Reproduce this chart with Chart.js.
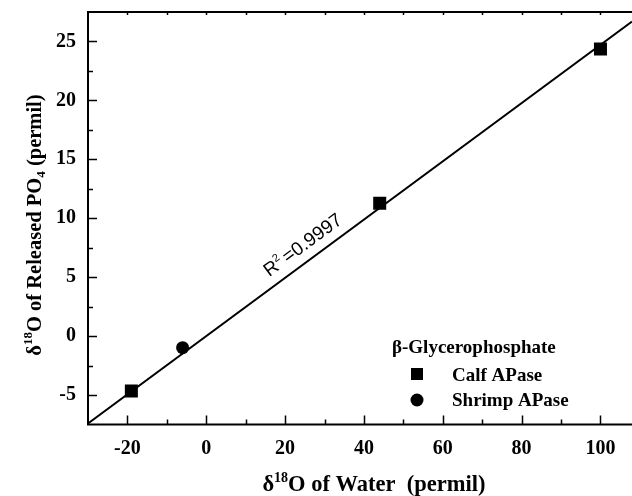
<!DOCTYPE html>
<html>
<head>
<meta charset="utf-8">
<script src="https://cdn.jsdelivr.net/npm/chart.js@4.4.1/dist/chart.umd.min.js"></script>
<style>
  html, body { margin: 0; padding: 0; background: #fff; overflow: hidden; }
  canvas { display: block; }
</style>
</head>
<body>
<canvas id="c" width="632" height="496"></canvas>
<script>
// Calf intestinal alkaline phosphatase runs
const calfX = [-19, 44, 100];
const calfY = [-4.66, 11.27, 24.36];
// Shrimp alkaline phosphatase run
const shrimpX = [-6];
const shrimpY = [-0.98];
// Regression line end points
const fitX = [-30, 108];
const fitY = [-7.42, 26.69];
// Axis ticks
const xTicks = [-20, 0, 20, 40, 60, 80, 100];
const xMinor = [-10, 10, 30, 50, 70, 90];
const yTicks = [-5, 0, 5, 10, 15, 20, 25];
const yMinor = [-2.5, 2.5, 7.5, 12.5, 17.5, 22.5];
const rSquared = 'R';
const rValue = '=0.9997';

const SERIF = '"Liberation Serif", "Times New Roman", serif';
const SANS = '"Liberation Sans", Arial, sans-serif';

function pts(xs, ys) { return xs.map((x, i) => ({ x: x, y: ys[i] })); }

// Text made of pieces (normal / superscript / subscript)
function richWidth(ctx, parts) {
  let w = 0;
  for (const p of parts) { ctx.font = p.font; w += ctx.measureText(p.t).width; }
  return w;
}
function drawRich(ctx, parts, x, y) {
  let cx = x;
  for (const p of parts) {
    ctx.font = p.font;
    ctx.fillText(p.t, cx, y + (p.dy || 0));
    cx += ctx.measureText(p.t).width;
  }
}

const decorations = {
  id: 'decorations',
  afterDraw(chart) {
    const ctx = chart.ctx;
    const a = chart.chartArea;
    const xs = chart.scales.x, ys = chart.scales.y;
    ctx.save();
    ctx.strokeStyle = '#000';
    ctx.fillStyle = '#000';

    // frame (the right side runs past the canvas edge)
    ctx.lineWidth = 2;
    ctx.beginPath();
    ctx.moveTo(a.right + 2, a.top);
    ctx.lineTo(a.left, a.top);
    ctx.lineTo(a.left, a.bottom);
    ctx.lineTo(a.right + 2, a.bottom);
    ctx.stroke();

    // inward tick marks
    ctx.lineWidth = 1.5;
    ctx.beginPath();
    xTicks.forEach(v => {
      const p = Math.round(xs.getPixelForValue(v)) + 0.5;
      ctx.moveTo(p, a.bottom); ctx.lineTo(p, a.bottom - 9);
      ctx.moveTo(p, a.top); ctx.lineTo(p, a.top + 3);
    });
    xMinor.forEach(v => {
      const p = Math.round(xs.getPixelForValue(v)) + 0.5;
      ctx.moveTo(p, a.bottom); ctx.lineTo(p, a.bottom - 5);
      ctx.moveTo(p, a.top); ctx.lineTo(p, a.top + 3);
    });
    yTicks.forEach(v => {
      const p = Math.round(ys.getPixelForValue(v)) + 0.5;
      ctx.moveTo(a.left, p); ctx.lineTo(a.left + 9, p);
    });
    yMinor.forEach(v => {
      const p = Math.round(ys.getPixelForValue(v)) + 0.5;
      ctx.moveTo(a.left, p); ctx.lineTo(a.left + 5, p);
    });
    ctx.stroke();

    // tick labels
    ctx.font = 'bold 20px ' + SERIF;
    ctx.textAlign = 'center';
    ctx.textBaseline = 'top';
    xTicks.forEach(v => ctx.fillText(String(v), xs.getPixelForValue(v), a.bottom + 14));
    ctx.textAlign = 'right';
    ctx.textBaseline = 'middle';
    yTicks.forEach(v => ctx.fillText(String(v), a.left - 12, ys.getPixelForValue(v)));

    // x axis title
    ctx.textBaseline = 'alphabetic';
    ctx.textAlign = 'left';
    const xBig = 'bold 22.5px ' + SERIF, xSup = 'bold 14px ' + SERIF;
    const xt = [
      { t: '\u03B4', font: xBig },
      { t: '18', font: xSup, dy: -9 },
      { t: 'O of Water  (permil)', font: xBig }
    ];
    const xw = richWidth(ctx, xt);
    drawRich(ctx, xt, 374 - xw / 2, 491);

    // y axis title
    const yBig = 'bold 20.5px ' + SERIF, ySup = 'bold 13px ' + SERIF;
    const yt = [
      { t: '\u03B4', font: yBig },
      { t: '18', font: ySup, dy: -9 },
      { t: 'O of Released PO', font: yBig },
      { t: '4', font: ySup, dy: 4 },
      { t: ' (permil)', font: yBig }
    ];
    const yw = richWidth(ctx, yt);
    ctx.save();
    ctx.translate(41, 225);
    ctx.rotate(-Math.PI / 2);
    drawRich(ctx, yt, -yw / 2, 0);
    ctx.restore();

    // R^2 label along the fit line
    const p0x = xs.getPixelForValue(fitX[0]), p0y = ys.getPixelForValue(fitY[0]);
    const p1x = xs.getPixelForValue(fitX[1]), p1y = ys.getPixelForValue(fitY[1]);
    const ang = Math.atan2(p1y - p0y, p1x - p0x);
    const ax = 17.5;
    const ay = fitY[0] + (ax - fitX[0]) * (fitY[1] - fitY[0]) / (fitX[1] - fitX[0]);
    ctx.save();
    ctx.translate(xs.getPixelForValue(ax), ys.getPixelForValue(ay));
    ctx.rotate(ang);
    const rf = '19px ' + SANS, rs = '11px ' + SANS;
    drawRich(ctx, [
      { t: rSquared, font: rf },
      { t: '2', font: rs, dy: -8 },
      { t: ' ', font: rs },
      { t: rValue, font: rf }
    ], 0, -10);
    ctx.restore();

    // legend
    ctx.font = 'bold 19px ' + SERIF;
    ctx.fillText('\u03B2-Glycerophosphate', 392, 353);
    ctx.fillText('Calf APase', 452, 381);
    ctx.fillText('Shrimp APase', 452, 406);
    ctx.fillRect(411, 368, 12, 12);
    ctx.beginPath();
    ctx.arc(417, 400, 6.5, 0, Math.PI * 2);
    ctx.fill();

    ctx.restore();
  }
};

new Chart(document.getElementById('c'), {
  type: 'scatter',
  data: {
    datasets: [
      {
        label: 'Calf APase',
        data: pts(calfX, calfY),
        pointStyle: 'rect',
        pointRadius: 9.2,
        pointHoverRadius: 9.2,
        backgroundColor: '#000',
        borderColor: '#000',
        borderWidth: 0,
        order: 0
      },
      {
        label: 'Shrimp APase',
        data: pts(shrimpX, shrimpY),
        pointStyle: 'circle',
        pointRadius: 6.5,
        pointHoverRadius: 6.5,
        backgroundColor: '#000',
        borderColor: '#000',
        borderWidth: 0,
        order: 0
      },
      {
        label: 'Fit',
        type: 'line',
        data: pts(fitX, fitY),
        borderColor: '#000',
        borderWidth: 2,
        pointRadius: 0,
        fill: false,
        order: 1
      }
    ]
  },
  options: {
    responsive: false,
    devicePixelRatio: 1,
    animation: false,
    events: [],
    layout: { autoPadding: false, padding: { top: 12, left: 0, right: 0, bottom: 0 } },
    plugins: { legend: { display: false }, tooltip: { enabled: false } },
    scales: {
      x: {
        type: 'linear',
        min: -30, max: 108,
        grid: { display: false, drawTicks: false },
        border: { display: false },
        ticks: { display: false },
        afterFit: s => { s.height = 71.5; }
      },
      y: {
        type: 'linear',
        min: -7.5, max: 27.5,
        grid: { display: false, drawTicks: false },
        border: { display: false },
        ticks: { display: false },
        afterFit: s => { s.width = 88; }
      }
    }
  },
  plugins: [decorations]
});
</script>
</body>
</html>
